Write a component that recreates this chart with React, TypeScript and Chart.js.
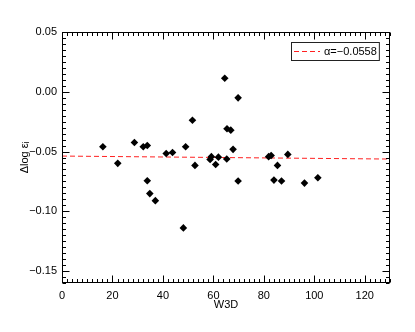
import React, { useEffect, useRef } from "react";
import { Chart, registerables } from "chart.js";
Chart.register(...registerables);

const W3D = [16.2, 22.1, 28.7, 32.2, 33.8, 33.8, 34.8, 37.0, 41.3, 43.8, 48.1, 49.0, 51.7, 52.7, 58.7, 59.2, 60.9, 62.0, 64.5, 65.3, 65.4, 66.9, 67.8, 69.8, 69.8, 81.9, 82.9, 84.0, 85.4, 87.0, 89.5, 96.1, 101.4];
const DLOG = [-0.046, -0.0599, -0.0424, -0.046, -0.0449, -0.0744, -0.0852, -0.0911, -0.0516, -0.0508, -0.1139, -0.046, -0.0238, -0.0616, -0.0566, -0.0543, -0.0608, -0.0547, 0.0113, -0.0563, -0.031, -0.0321, -0.0482, -0.0051, -0.0747, -0.0543, -0.0533, -0.0739, -0.0616, -0.0747, -0.0524, -0.0764, -0.0719];
const FIT_X = [0, 130];
const FIT_Y = [-0.0538, -0.0563];
const FIT_LABEL = "α=−0.0558";
const X_TICKS = [0, 20, 40, 60, 80, 100, 120];
const Y_TICKS = [-0.15, -0.1, -0.05, 0, 0.05];
const X_RANGE = [0, 130];
const Y_RANGE = [-0.16, 0.05];
const X_MINOR = 2;
const Y_MINOR = 0.005;

const FONT = "'Liberation Sans', Arial, Helvetica, sans-serif";

const framePlugin = {
  id: "frame",
  afterDatasetsDraw(chart: any) {
    const { ctx, chartArea: a } = chart;
    const xs = chart.scales.x;
    const ys = chart.scales.y;
    ctx.save();
    ctx.strokeStyle = "#000";
    ctx.lineWidth = 1;
    const L = Math.round(a.left) + 0.5;
    const R = Math.round(a.right) - 0.5;
    const T = Math.round(a.top) + 0.5;
    const B = Math.round(a.bottom) - 0.5;
    ctx.strokeRect(L, T, R - L, B - T);
    ctx.beginPath();
    const nx = Math.round((xs.max - xs.min) / X_MINOR);
    for (let i = 0; i <= nx; i++) {
      const v = xs.min + i * X_MINOR;
      const major = Math.abs(v / 20 - Math.round(v / 20)) < 1e-6;
      const len = major ? 7 : 3.5;
      const px = Math.round(xs.getPixelForValue(v)) + 0.5;
      ctx.moveTo(px, B);
      ctx.lineTo(px, B - len);
      ctx.moveTo(px, T);
      ctx.lineTo(px, T + len);
    }
    const ny = Math.round((ys.max - ys.min) / Y_MINOR);
    for (let i = 0; i <= ny; i++) {
      const v = ys.min + i * Y_MINOR;
      const major = Math.abs(v / 0.05 - Math.round(v / 0.05)) < 1e-6;
      const len = major ? 7 : 3.5;
      const py = Math.round(ys.getPixelForValue(v)) + 0.5;
      ctx.moveTo(L, py);
      ctx.lineTo(L + len, py);
      ctx.moveTo(R, py);
      ctx.lineTo(R - len, py);
    }
    ctx.stroke();
    ctx.restore();
  },
  afterDraw(chart: any) {
    const { ctx, chartArea: a } = chart;
    ctx.save();
    ctx.font = "11px " + FONT;
    const tw = ctx.measureText(FIT_LABEL).width;
    const lineW = 26;
    const pad = 3;
    const gap = 4;
    const w = pad + lineW + gap + tw + pad;
    const h = 19;
    const right = Math.round(a.right) - 10;
    const left = Math.round(right - w);
    const top = Math.round(a.top) + 10;
    ctx.fillStyle = "#fff";
    ctx.fillRect(left, top, w, h);
    ctx.strokeStyle = "#222";
    ctx.lineWidth = 1;
    ctx.strokeRect(left + 0.5, top + 0.5, w - 1, h - 1);
    ctx.strokeStyle = "#ff2020";
    ctx.setLineDash([5, 3]);
    ctx.beginPath();
    ctx.moveTo(left + pad, top + h / 2);
    ctx.lineTo(left + pad + lineW, top + h / 2);
    ctx.stroke();
    ctx.setLineDash([]);
    ctx.fillStyle = "#000";
    ctx.textBaseline = "middle";
    ctx.textAlign = "left";
    ctx.fillText(FIT_LABEL, left + pad + lineW + gap, top + h / 2 + 0.5);
    ctx.restore();
  },
};

const fmt = (v: number) => {
  const s = Math.abs(v).toFixed(2);
  return v < -1e-9 ? "−" + s : s;
};

export default function App() {
  const ref = useRef<HTMLCanvasElement | null>(null);
  useEffect(() => {
    if (!ref.current) return;
    const chart = new Chart(ref.current, {
      type: "scatter",
      data: {
        datasets: [
          {
            type: "line",
            label: FIT_LABEL,
            data: FIT_X.map((x, i) => ({ x, y: FIT_Y[i] })),
            borderColor: "#ff2020",
            borderWidth: 1,
            borderDash: [5, 3],
            pointRadius: 0,
            fill: false,
            order: 2,
          } as any,
          {
            label: "data",
            data: W3D.map((x, i) => ({ x, y: DLOG[i] })),
            pointStyle: "rectRot",
            pointRadius: 3.8,
            pointBackgroundColor: "#000",
            pointBorderColor: "#000",
            pointBorderWidth: 0,
            order: 1,
          },
        ],
      },
      options: {
        responsive: false,
        animation: false,
        layout: { padding: { top: 32, right: 25, left: 0, bottom: 0 } },
        plugins: { legend: { display: false }, tooltip: { enabled: false } },
        scales: {
          x: {
            type: "linear",
            min: X_RANGE[0],
            max: X_RANGE[1],
            grid: { display: false, drawTicks: false },
            border: { display: false },
            afterBuildTicks: (s: any) => {
              s.ticks = X_TICKS.map((v) => ({ value: v }));
            },
            afterFit: (s: any) => {
              s.height = 49;
            },
            ticks: {
              padding: 6,
              color: "#000",
              font: { family: FONT, size: 11 },
              maxRotation: 0,
              callback: (v: any) => String(v),
            },
            title: {
              display: true,
              text: "W3D",
              color: "#000",
              font: { family: FONT, size: 11 },
              padding: { top: 0, bottom: 20 },
            },
          },
          y: {
            type: "linear",
            min: Y_RANGE[0],
            max: Y_RANGE[1],
            grid: { display: false, drawTicks: false },
            border: { display: false },
            afterBuildTicks: (s: any) => {
              s.ticks = Y_TICKS.map((v) => ({ value: v }));
            },
            afterFit: (s: any) => {
              s.width = 62;
            },
            ticks: {
              padding: 5,
              color: "#000",
              font: { family: FONT, size: 11 },
              callback: (v: any) => fmt(Number(v)),
            },
            title: {
              display: true,
              text: "Δlog εᵢ",
              color: "#000",
              font: { family: FONT, size: 11 },
              padding: { top: 18, bottom: 0 },
            },
          },
        },
      },
      plugins: [framePlugin],
    } as any);
    return () => chart.destroy();
  }, []);
  return (
    <div style={{ position: "fixed", left: 0, top: 0, width: 415, height: 332, background: "#fff" }}>
      <canvas ref={ref} width={415} height={332} style={{ width: 415, height: 332, display: "block" }} />
    </div>
  );
}
